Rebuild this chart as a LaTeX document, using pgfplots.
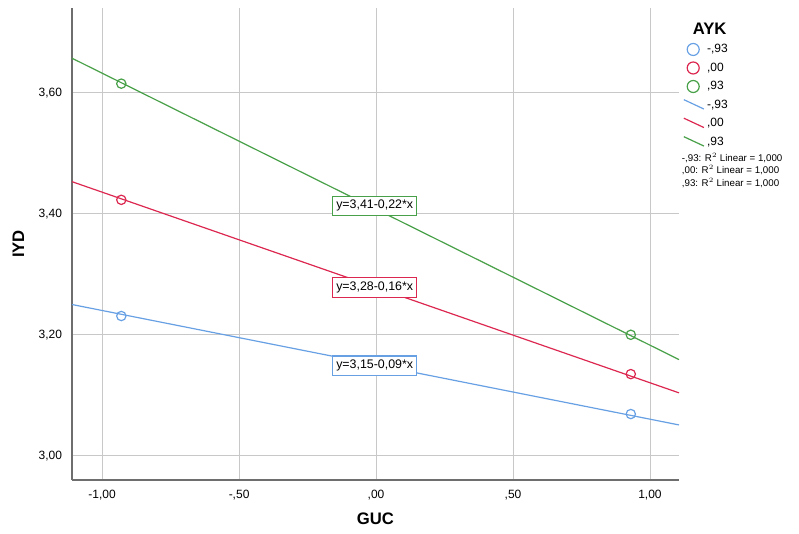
\documentclass[border=0pt]{standalone}
\usepackage{pgfplots}
\pgfplotsset{compat=1.18}
\usepackage{fontspec}
\setmainfont{Liberation Sans}
\definecolor{cblue}{RGB}{104,160,228}
\definecolor{cred}{RGB}{220,40,80}
\definecolor{cgreen}{RGB}{72,160,72}
\definecolor{gridc}{RGB}{200,200,200}
\definecolor{axc}{RGB}{110,110,110}
\pgfplotsset{diagline/.style={legend image code/.code={\draw[##1] (0pt,4pt) -- (15pt,-3pt);}},
  bigcirc/.style={legend image code/.code={\draw[##1, mark size=4.5pt] plot coordinates {(7pt,0pt)};}}}
\begin{document}
\begin{tikzpicture}[x=1pt,y=1pt]
\path[use as bounding box] (0,0) rectangle (599.25,399.75);
\begin{axis}[
  at={(54pt,39.75pt)}, anchor=south west,
  scale only axis, width=455.25pt, height=354pt,
  xmin=-1.11, xmax=1.106, ymin=2.96, ymax=3.74,
  axis lines=left, axis line style={-, draw=axc, line width=0.8pt},
  grid=major, major grid style={draw=gridc, line width=0.7pt},
  xtick={-1,-0.5,0,0.5,1},
  ytick={3.0,3.2,3.4,3.6}, yticklabels={{3,00},{3,20},{3,40},{3,60}},
  xticklabels={{-1,00},{-,50},{,00},{,50},{1,00}},
  major tick length=0pt,
  tick label style={font=\fontsize{9}{11}\selectfont},
  xticklabel style={yshift=-4pt},
  yticklabel style={xshift=-4pt},
  xlabel={\textbf{GUC}}, ylabel={\textbf{IYD}},
  xlabel style={font=\fontsize{12.5}{14}\selectfont, yshift=-3pt},
  ylabel style={font=\fontsize{12.5}{14}\selectfont, yshift=4pt},
  clip=false,
  legend style={at={(1.0,0.935)}, anchor=north west, draw=none, fill=none,
    font=\fontsize{9}{11}\selectfont, row sep=2.1pt, cells={anchor=west}},
  legend cell align=left,
]
\addplot[only marks, mark=o, mark size=3.5pt, draw=cblue, line width=0.9pt, bigcirc] coordinates {(-0.93,3.231) (0.93,3.069)};
\addlegendentry{-,93}
\addplot[only marks, mark=o, mark size=3.5pt, draw=cred, line width=0.9pt, bigcirc] coordinates {(-0.93,3.423) (0.93,3.135)};
\addlegendentry{,00}
\addplot[only marks, mark=o, mark size=3.5pt, draw=cgreen, line width=0.9pt, bigcirc] coordinates {(-0.93,3.615) (0.93,3.200)};
\addlegendentry{,93}
\addplot[cblue, line width=0.9pt, diagline] coordinates {(-1.11,3.250) (1.106,3.051)};
\addlegendentry{-,93}
\addplot[cred, line width=0.9pt, diagline] coordinates {(-1.11,3.453) (1.106,3.104)};
\addlegendentry{,00}
\addplot[cgreen, line width=0.9pt, diagline] coordinates {(-1.11,3.657) (1.106,3.159)};
\addlegendentry{,93}
\node[draw=cgreen, fill=white, line width=0.8pt, inner xsep=2.5pt, inner ysep=3pt, font=\fontsize{9.3}{11}\selectfont] at (axis cs:-0.005,3.413) {y=3,41-0,22*x};
\node[draw=cred, fill=white, line width=0.8pt, inner xsep=2.5pt, inner ysep=3pt, font=\fontsize{9.3}{11}\selectfont] at (axis cs:-0.005,3.278) {y=3,28-0,16*x};
\node[draw=cblue, fill=white, line width=0.8pt, inner xsep=2.5pt, inner ysep=3pt, font=\fontsize{9.3}{11}\selectfont] at (axis cs:-0.005,3.149) {y=3,15-0,09*x};
\node[anchor=west, font=\bfseries\fontsize{12.5}{14}\selectfont] at (rel axis cs:1.015,0.955) {AYK};
\node[anchor=north west, align=left, font=\fontsize{7.3}{9.2}\selectfont] at (rel axis cs:0.997,0.702) {-,93: R$^2$ Linear = 1,000\\ ,00: R$^2$ Linear = 1,000\\ ,93: R$^2$ Linear = 1,000};
\end{axis}
\end{tikzpicture}
\end{document}
